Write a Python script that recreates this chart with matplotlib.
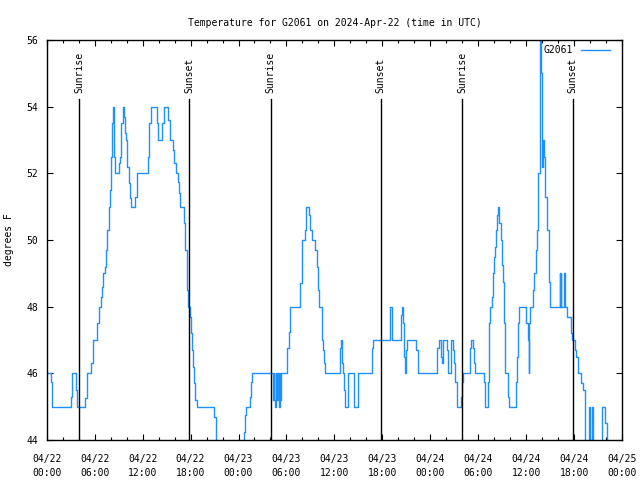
import matplotlib
matplotlib.use("Agg")
import matplotlib.pyplot as plt
import pandas as pd

start = pd.Timestamp("2024-04-22 00:00")

# hours since start at which the reading changes, and the new reading (deg F)
hours = [0.0, 0.5, 0.7, 3.0, 3.2, 3.7, 3.8, 4.85, 5.0, 5.1,
         5.6, 5.75, 6.35, 6.5, 6.8, 6.95, 7.1, 7.3, 7.45, 7.6,
         7.75, 7.9, 8.0, 8.1, 8.2, 8.3, 8.45, 8.55, 9.1, 9.2,
         9.35, 9.55, 9.65, 9.75, 9.9, 10.0, 10.25, 10.4, 10.55, 11.1,
         11.25, 11.35, 12.7, 12.83, 13.0, 13.75, 13.87, 14.46, 14.7, 15.2,
         15.4, 15.75, 15.95, 16.15, 16.4, 16.6, 16.7, 17.2, 17.33, 17.5,
         17.6, 17.7, 17.9, 18.05, 18.2, 18.33, 18.45, 18.6, 18.75, 20.9,
         21.2, 24.7, 24.83, 25.0, 25.5, 25.6, 25.75, 28.3, 28.4, 28.5,
         28.6, 28.7, 28.8, 28.95, 29.05, 29.15, 29.25, 29.33, 30.1, 30.33,
         30.4, 31.67, 31.9, 32.0, 32.3, 32.4, 32.5, 32.83, 33.0, 33.25,
         33.55, 33.8, 34.0, 34.1, 34.4, 34.6, 34.7, 34.83, 36.7, 36.8,
         36.9, 37.05, 37.2, 37.33, 37.75, 38.45, 38.95, 40.7, 40.83, 42.9,
         43.0, 43.17, 43.25, 44.3, 44.4, 44.6, 44.75, 44.83, 44.9, 45.05,
         46.2, 46.4, 48.9, 49.05, 49.4, 49.5, 49.6, 50.1, 50.25, 50.6,
         50.9, 51.0, 51.1, 51.3, 51.4, 51.9, 51.95, 52.1, 52.95, 53.1,
         53.4, 53.5, 53.6, 54.67, 54.83, 55.17, 55.3, 55.4, 55.5, 55.7,
         55.83, 55.96, 56.1, 56.25, 56.4, 56.46, 56.54, 56.6, 56.83, 57.0,
         57.1, 57.25, 57.33, 57.67, 57.8, 58.7, 58.83, 59.0, 59.1, 59.96,
         60.2, 60.3, 60.37, 60.5, 60.9, 61.04, 61.25, 61.37, 61.54, 61.67,
         61.75, 61.83, 61.96, 62.04, 62.1, 62.2, 62.3, 62.4, 62.6, 62.8,
         62.9, 63.04, 64.17, 64.25, 64.33, 64.4, 64.7, 64.8, 65.1, 65.6,
         65.75, 66.17, 66.25, 66.5, 66.9, 67.1, 67.3, 67.4, 67.9, 68.0,
         68.2, 68.3, 69.5, 69.9, 70.1, 70.4]
temps = [46, 45.75, 45, 45.3, 46, 45.5, 45, 45.25, 45.75, 46,
         46.3, 47, 47.5, 48, 48.3, 48.6, 49, 49.2, 49.7, 50.3,
         51, 51.5, 52, 52.5, 53.5, 54, 52.5, 52, 52.3, 52.5,
         53.5, 54, 53.7, 53.2, 53, 52.2, 51.7, 51.25, 51, 51.3,
         51.75, 52, 52.5, 53.5, 54, 53.5, 53, 53.5, 54, 53.6,
         53, 52.7, 52.3, 52, 51.75, 51.4, 51, 50.5, 49.7, 49,
         48.5, 48, 47.7, 47.2, 46.7, 46.2, 45.7, 45.2, 45, 44.7,
         43, 44.25, 44.75, 45, 45.3, 45.75, 46, 45.2, 46, 45.2,
         45, 46, 45.2, 46, 45, 46, 45.2, 46, 46.75, 47.25,
         48, 48.7, 49.5, 50, 50.3, 50.75, 51, 50.75, 50.3, 50,
         49.7, 49.2, 48.5, 48, 47, 46.7, 46.3, 46, 46.75, 47,
         46.3, 46, 45.5, 45, 46, 45, 46, 46.75, 47, 47.75,
         48, 47.3, 47, 47.75, 48, 47.5, 46.5, 46, 46.7, 47,
         46.7, 46, 46.75, 47, 46.5, 46.3, 47, 46.7, 46, 47,
         46.7, 46.3, 45.75, 45.3, 45, 45.3, 45.75, 46, 46.75, 47,
         46.75, 46.3, 46, 45.75, 45, 45.75, 46.5, 47.5, 48, 48.3,
         49, 49.5, 49.8, 50.3, 50.75, 51, 50.6, 50.5, 50, 49.25,
         48.75, 47.5, 46, 45.3, 45, 45.75, 46.5, 47.5, 48, 47.5,
         47, 46, 47.5, 48, 48.5, 49, 49.7, 50.3, 52, 54.3,
         56.5, 55, 53, 52.2, 53, 52.5, 52, 51.3, 50.3, 49.3,
         48.75, 48, 49, 48, 49, 48, 49, 48, 47.7, 47.2,
         47, 46.7, 46.5, 46, 45.7, 45.5, 44.8, 43.5, 45, 43.5,
         45, 43.5, 45, 44.5, 43.5, 43.5]

sunrise = ["2024-04-22 04:03", "2024-04-23 04:02", "2024-04-24 03:59"]
sunset = ["2024-04-22 17:51", "2024-04-23 17:47", "2024-04-24 17:50"]

times = start + pd.to_timedelta(hours, unit="h")

plt.rcParams['font.family'] = ['DejaVu Sans Mono']
plt.rcParams['font.size'] = 7

fig = plt.figure(figsize=(6.4, 4.8), dpi=100)
ax = fig.add_axes([0.073, 0.0833, 0.899, 0.8334])

ax.plot(times, temps, drawstyle='steps-post', color='#1e90ff', linewidth=1.0, label='G2061')

for t in sunrise:
    ax.axvline(pd.Timestamp(t), ymin=0, ymax=0.8525, color='black', linewidth=1.0)
    ax.text(pd.Timestamp(t), 0.868, "Sunrise", transform=ax.get_xaxis_transform(),
            rotation=90, ha='center', va='bottom')
for t in sunset:
    ax.axvline(pd.Timestamp(t), ymin=0, ymax=0.8525, color='black', linewidth=1.0)
    ax.text(pd.Timestamp(t), 0.868, "Sunset", transform=ax.get_xaxis_transform(),
            rotation=90, ha='center', va='bottom')

ax.set_xlim(start, start + pd.Timedelta(hours=72))
ax.set_ylim(44, 56)

major = pd.date_range(start, periods=13, freq="6h")
minor = pd.date_range(start, periods=37, freq="2h")
ax.set_xticks(major, [t.strftime("%m/%d\n%H:%M") for t in major], linespacing=1.5)
ax.set_xticks(minor, minor=True)
ax.set_yticks(range(44, 57, 2))

ax.tick_params(which='both', direction='in', top=True, right=True, width=0.8)
ax.tick_params(which='major', length=4)
ax.tick_params(which='minor', length=2.5)
ax.tick_params(axis='x', which='major', pad=10)
ax.tick_params(axis='y', pad=6)
for s in ax.spines.values():
    s.set_linewidth(1.0)

ax.set_title("Temperature for G2061 on 2024-Apr-22 (time in UTC)", fontsize=7, pad=10)
ax.set_ylabel("degrees F")
ax.yaxis.set_label_coords(-0.0577, 0.5)

ax.legend(loc='upper right', bbox_to_anchor=(0.979, 0.987), frameon=False,
          markerfirst=False, handlelength=3.0, handletextpad=0.8,
          borderpad=0, borderaxespad=0)

fig.savefig("out.png", dpi=100)
